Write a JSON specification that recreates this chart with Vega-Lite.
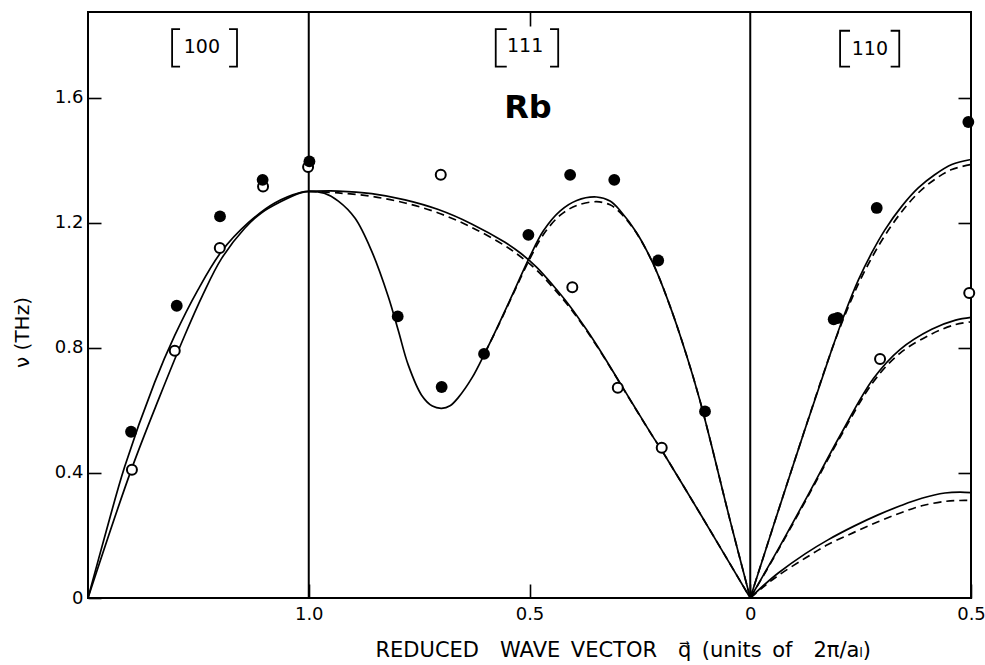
{
  "$schema": "https://vega.github.io/schema/vega-lite/v6.json",
  "width": 883,
  "height": 586,
  "autosize": "none",
  "padding": {"left": 88, "top": 12, "right": 14, "bottom": 67},
  "background": "white",
  "config": {
    "view": {"stroke": "black", "strokeWidth": 2},
    "axis": {"grid": false, "domain": false, "labelFont": "DejaVu Sans", "titleFont": "DejaVu Sans", "labelColor": "black", "titleColor": "black", "tickColor": "black", "labelFontSize": 18, "titleFontWeight": "normal", "tickWidth": 1.6}
  },
  "datasets": {
    "dividers": [{"s": 1}, {"s": 3}],
    "solid": [
      {"id": "100a", "s": 0, "v": 0}, {"id": "100a", "s": 0.083, "v": 0.215}, {"id": "100a", "s": 0.166, "v": 0.42}, {"id": "100a", "s": 0.302, "v": 0.69}, {"id": "100a", "s": 0.393, "v": 0.84}, {"id": "100a", "s": 0.498, "v": 0.986}, {"id": "100a", "s": 0.604, "v": 1.108}, {"id": "100a", "s": 0.725, "v": 1.2}, {"id": "100a", "s": 0.846, "v": 1.264}, {"id": "100a", "s": 0.966, "v": 1.298}, {"id": "100a", "s": 1.0, "v": 1.301},
      {"id": "100b", "s": 0, "v": 0}, {"id": "100b", "s": 0.196, "v": 0.41}, {"id": "100b", "s": 0.325, "v": 0.645}, {"id": "100b", "s": 0.438, "v": 0.84}, {"id": "100b", "s": 0.52, "v": 0.97}, {"id": "100b", "s": 0.604, "v": 1.085}, {"id": "100b", "s": 0.71, "v": 1.183}, {"id": "100b", "s": 0.785, "v": 1.232}, {"id": "100b", "s": 0.87, "v": 1.267}, {"id": "100b", "s": 0.966, "v": 1.297}, {"id": "100b", "s": 1.0, "v": 1.301},
      {"id": "111L", "s": 1.0, "v": 1.301}, {"id": "111L", "s": 1.07, "v": 1.295}, {"id": "111L", "s": 1.134, "v": 1.27}, {"id": "111L", "s": 1.21, "v": 1.215}, {"id": "111L", "s": 1.285, "v": 1.11}, {"id": "111L", "s": 1.36, "v": 0.965}, {"id": "111L", "s": 1.406, "v": 0.855}, {"id": "111L", "s": 1.451, "v": 0.745}, {"id": "111L", "s": 1.512, "v": 0.648}, {"id": "111L", "s": 1.56, "v": 0.614}, {"id": "111L", "s": 1.602, "v": 0.607}, {"id": "111L", "s": 1.64, "v": 0.615}, {"id": "111L", "s": 1.678, "v": 0.642}, {"id": "111L", "s": 1.74, "v": 0.705}, {"id": "111L", "s": 1.798, "v": 0.784}, {"id": "111L", "s": 1.86, "v": 0.875}, {"id": "111L", "s": 1.919, "v": 0.965}, {"id": "111L", "s": 2.002, "v": 1.093}, {"id": "111L", "s": 2.063, "v": 1.175}, {"id": "111L", "s": 2.138, "v": 1.238}, {"id": "111L", "s": 2.214, "v": 1.272}, {"id": "111L", "s": 2.304, "v": 1.283}, {"id": "111L", "s": 2.365, "v": 1.27}, {"id": "111L", "s": 2.41, "v": 1.24}, {"id": "111L", "s": 2.486, "v": 1.168}, {"id": "111L", "s": 2.561, "v": 1.068}, {"id": "111L", "s": 2.637, "v": 0.933}, {"id": "111L", "s": 2.712, "v": 0.775}, {"id": "111L", "s": 2.772, "v": 0.632}, {"id": "111L", "s": 2.825, "v": 0.487}, {"id": "111L", "s": 2.908, "v": 0.25}, {"id": "111L", "s": 3.0, "v": 0},
      {"id": "111T", "s": 1.0, "v": 1.301}, {"id": "111T", "s": 1.134, "v": 1.302}, {"id": "111T", "s": 1.285, "v": 1.294}, {"id": "111T", "s": 1.436, "v": 1.274}, {"id": "111T", "s": 1.587, "v": 1.243}, {"id": "111T", "s": 1.738, "v": 1.197}, {"id": "111T", "s": 1.889, "v": 1.138}, {"id": "111T", "s": 1.96, "v": 1.103}, {"id": "111T", "s": 2.033, "v": 1.058}, {"id": "111T", "s": 2.108, "v": 0.999}, {"id": "111T", "s": 2.184, "v": 0.933}, {"id": "111T", "s": 2.259, "v": 0.858}, {"id": "111T", "s": 2.334, "v": 0.776}, {"id": "111T", "s": 2.41, "v": 0.688}, {"id": "111T", "s": 2.486, "v": 0.6}, {"id": "111T", "s": 2.561, "v": 0.514}, {"id": "111T", "s": 2.596, "v": 0.476}, {"id": "111T", "s": 2.772, "v": 0.271}, {"id": "111T", "s": 3.0, "v": 0},
      {"id": "110L", "s": 3.0, "v": 0}, {"id": "110L", "s": 3.185, "v": 0.405}, {"id": "110L", "s": 3.369, "v": 0.794}, {"id": "110L", "s": 3.429, "v": 0.912}, {"id": "110L", "s": 3.49, "v": 1.018}, {"id": "110L", "s": 3.55, "v": 1.104}, {"id": "110L", "s": 3.61, "v": 1.178}, {"id": "110L", "s": 3.686, "v": 1.253}, {"id": "110L", "s": 3.761, "v": 1.312}, {"id": "110L", "s": 3.837, "v": 1.355}, {"id": "110L", "s": 3.913, "v": 1.387}, {"id": "110L", "s": 4.0, "v": 1.403},
      {"id": "110T1", "s": 3.0, "v": 0}, {"id": "110T1", "s": 3.128, "v": 0.158}, {"id": "110T1", "s": 3.256, "v": 0.322}, {"id": "110T1", "s": 3.407, "v": 0.52}, {"id": "110T1", "s": 3.558, "v": 0.702}, {"id": "110T1", "s": 3.678, "v": 0.795}, {"id": "110T1", "s": 3.822, "v": 0.86}, {"id": "110T1", "s": 3.93, "v": 0.889}, {"id": "110T1", "s": 4.0, "v": 0.898},
      {"id": "110T2", "s": 3.0, "v": 0}, {"id": "110T2", "s": 3.06, "v": 0.04}, {"id": "110T2", "s": 3.127, "v": 0.08}, {"id": "110T2", "s": 3.25, "v": 0.142}, {"id": "110T2", "s": 3.352, "v": 0.186}, {"id": "110T2", "s": 3.47, "v": 0.23}, {"id": "110T2", "s": 3.579, "v": 0.266}, {"id": "110T2", "s": 3.68, "v": 0.295}, {"id": "110T2", "s": 3.777, "v": 0.319}, {"id": "110T2", "s": 3.882, "v": 0.336}, {"id": "110T2", "s": 3.95, "v": 0.339}, {"id": "110T2", "s": 4.0, "v": 0.337}
    ],
    "dashed": [
      {"id": "111L", "s": 1.798, "v": 0.784}, {"id": "111L", "s": 1.86, "v": 0.873}, {"id": "111L", "s": 1.919, "v": 0.962}, {"id": "111L", "s": 2.002, "v": 1.086}, {"id": "111L", "s": 2.063, "v": 1.163}, {"id": "111L", "s": 2.138, "v": 1.224}, {"id": "111L", "s": 2.214, "v": 1.256}, {"id": "111L", "s": 2.304, "v": 1.268}, {"id": "111L", "s": 2.365, "v": 1.258}, {"id": "111L", "s": 2.41, "v": 1.234}, {"id": "111L", "s": 2.486, "v": 1.166}, {"id": "111L", "s": 2.561, "v": 1.068}, {"id": "111L", "s": 2.637, "v": 0.933}, {"id": "111L", "s": 2.712, "v": 0.775}, {"id": "111L", "s": 2.772, "v": 0.632}, {"id": "111L", "s": 2.825, "v": 0.487}, {"id": "111L", "s": 2.908, "v": 0.25}, {"id": "111L", "s": 3.0, "v": 0},
      {"id": "111T", "s": 1.0, "v": 1.301}, {"id": "111T", "s": 1.134, "v": 1.296}, {"id": "111T", "s": 1.285, "v": 1.285}, {"id": "111T", "s": 1.436, "v": 1.264}, {"id": "111T", "s": 1.587, "v": 1.232}, {"id": "111T", "s": 1.738, "v": 1.186}, {"id": "111T", "s": 1.889, "v": 1.127}, {"id": "111T", "s": 1.96, "v": 1.092}, {"id": "111T", "s": 2.033, "v": 1.049}, {"id": "111T", "s": 2.108, "v": 0.992}, {"id": "111T", "s": 2.184, "v": 0.928}, {"id": "111T", "s": 2.259, "v": 0.855}, {"id": "111T", "s": 2.334, "v": 0.774}, {"id": "111T", "s": 2.41, "v": 0.687}, {"id": "111T", "s": 2.486, "v": 0.599}, {"id": "111T", "s": 2.561, "v": 0.514}, {"id": "111T", "s": 2.596, "v": 0.476}, {"id": "111T", "s": 2.772, "v": 0.271}, {"id": "111T", "s": 3.0, "v": 0},
      {"id": "110L", "s": 3.0, "v": 0}, {"id": "110L", "s": 3.185, "v": 0.405}, {"id": "110L", "s": 3.369, "v": 0.794}, {"id": "110L", "s": 3.429, "v": 0.905}, {"id": "110L", "s": 3.49, "v": 1.005}, {"id": "110L", "s": 3.55, "v": 1.088}, {"id": "110L", "s": 3.61, "v": 1.16}, {"id": "110L", "s": 3.686, "v": 1.236}, {"id": "110L", "s": 3.761, "v": 1.296}, {"id": "110L", "s": 3.837, "v": 1.34}, {"id": "110L", "s": 3.913, "v": 1.371}, {"id": "110L", "s": 4.0, "v": 1.387},
      {"id": "110T1", "s": 3.0, "v": 0}, {"id": "110T1", "s": 3.128, "v": 0.155}, {"id": "110T1", "s": 3.256, "v": 0.318}, {"id": "110T1", "s": 3.407, "v": 0.514}, {"id": "110T1", "s": 3.558, "v": 0.692}, {"id": "110T1", "s": 3.678, "v": 0.783}, {"id": "110T1", "s": 3.822, "v": 0.845}, {"id": "110T1", "s": 3.93, "v": 0.875}, {"id": "110T1", "s": 4.0, "v": 0.884},
      {"id": "110T2", "s": 3.0, "v": 0}, {"id": "110T2", "s": 3.06, "v": 0.036}, {"id": "110T2", "s": 3.127, "v": 0.072}, {"id": "110T2", "s": 3.25, "v": 0.128}, {"id": "110T2", "s": 3.352, "v": 0.171}, {"id": "110T2", "s": 3.47, "v": 0.21}, {"id": "110T2", "s": 3.579, "v": 0.244}, {"id": "110T2", "s": 3.68, "v": 0.272}, {"id": "110T2", "s": 3.777, "v": 0.295}, {"id": "110T2", "s": 3.882, "v": 0.309}, {"id": "110T2", "s": 3.95, "v": 0.312}, {"id": "110T2", "s": 4.0, "v": 0.312}
    ],
    "brackets": [
      {"b": "L100", "i": 0, "s": 0.417, "v": 1.82}, {"b": "L100", "i": 1, "s": 0.381, "v": 1.82}, {"b": "L100", "i": 2, "s": 0.381, "v": 1.7}, {"b": "L100", "i": 3, "s": 0.417, "v": 1.7},
      {"b": "R100", "i": 0, "s": 0.639, "v": 1.82}, {"b": "R100", "i": 1, "s": 0.675, "v": 1.82}, {"b": "R100", "i": 2, "s": 0.675, "v": 1.7}, {"b": "R100", "i": 3, "s": 0.639, "v": 1.7},
      {"b": "L111", "i": 0, "s": 1.897, "v": 1.82}, {"b": "L111", "i": 1, "s": 1.847, "v": 1.82}, {"b": "L111", "i": 2, "s": 1.847, "v": 1.7}, {"b": "L111", "i": 3, "s": 1.897, "v": 1.7},
      {"b": "R111", "i": 0, "s": 2.093, "v": 1.82}, {"b": "R111", "i": 1, "s": 2.13, "v": 1.82}, {"b": "R111", "i": 2, "s": 2.13, "v": 1.7}, {"b": "R111", "i": 3, "s": 2.093, "v": 1.7},
      {"b": "L110", "i": 0, "s": 3.452, "v": 1.815}, {"b": "L110", "i": 1, "s": 3.407, "v": 1.815}, {"b": "L110", "i": 2, "s": 3.407, "v": 1.7}, {"b": "L110", "i": 3, "s": 3.452, "v": 1.7},
      {"b": "R110", "i": 0, "s": 3.636, "v": 1.815}, {"b": "R110", "i": 1, "s": 3.675, "v": 1.815}, {"b": "R110", "i": 2, "s": 3.675, "v": 1.7}, {"b": "R110", "i": 3, "s": 3.636, "v": 1.7}
    ],
    "dirs": [
      {"s": 0.516, "v": 1.762, "t": "100"},
      {"s": 1.98, "v": 1.766, "t": "111"},
      {"s": 3.542, "v": 1.758, "t": "110"}
    ],
    "elem": [{"s": 1.993, "v": 1.569, "t": "Rb"}],
    "open": [
      {"s": 0.199, "v": 0.41}, {"s": 0.393, "v": 0.791}, {"s": 0.597, "v": 1.12}, {"s": 0.793, "v": 1.317}, {"s": 0.997, "v": 1.379},
      {"s": 1.598, "v": 1.354}, {"s": 2.194, "v": 0.994}, {"s": 2.4, "v": 0.673}, {"s": 2.599, "v": 0.481},
      {"s": 3.588, "v": 0.765}, {"s": 3.992, "v": 0.976}
    ],
    "filled": [
      {"s": 0.195, "v": 0.532}, {"s": 0.402, "v": 0.935}, {"s": 0.598, "v": 1.221}, {"s": 0.791, "v": 1.338}, {"s": 1.003, "v": 1.397},
      {"s": 1.403, "v": 0.901}, {"s": 1.602, "v": 0.675}, {"s": 1.794, "v": 0.781}, {"s": 1.995, "v": 1.162}, {"s": 2.184, "v": 1.354}, {"s": 2.384, "v": 1.338}, {"s": 2.583, "v": 1.08}, {"s": 2.795, "v": 0.597},
      {"s": 3.378, "v": 0.892}, {"s": 3.396, "v": 0.896}, {"s": 3.573, "v": 1.248}, {"s": 3.988, "v": 1.523}
    ]
  },
  "resolve": {"axis": {"x": "independent", "y": "independent"}},
  "layer": [
    {
      "data": {"name": "dividers"},
      "mark": {"type": "rule", "stroke": "black", "strokeWidth": 2},
      "encoding": {
        "x": {"field": "s", "type": "quantitative", "scale": {"domain": [0, 4], "nice": false, "zero": false},
          "axis": {"orient": "bottom", "values": [1, 2, 3, 4], "labelExpr": "datum.value == 1 ? '1.0' : (datum.value == 3 ? '0' : '0.5')", "labelFlush": false, "labelOverlap": false, "tickSize": -14, "labelPadding": 21,
            "title": "REDUCED\u2003WAVE\u2002VECTOR\u2003q\u20d7\u2002(units\u2002of\u20032\u03c0/a\u2097)", "titleFontSize": 21, "titleX": 287, "titleY": 52, "titleAlign": "left", "titleBaseline": "middle"}}
      }
    },
    {
      "data": {"name": "dashed"},
      "mark": {"type": "line", "stroke": "black", "strokeWidth": 1.7, "strokeDash": [8, 5], "interpolate": "catmull-rom"},
      "encoding": {
        "x": {"field": "s", "type": "quantitative", "scale": {"domain": [0, 4], "nice": false, "zero": false},
          "axis": {"orient": "top", "values": [2], "labels": false, "tickSize": -14, "title": null}},
        "y": {"field": "v", "type": "quantitative", "scale": {"domain": [0, 1.875], "nice": false, "zero": false},
          "axis": {"orient": "right", "values": [0.4, 0.8, 1.2, 1.6], "labels": false, "tickSize": -13, "title": null}},
        "detail": {"field": "id"}
      }
    },
    {
      "data": {"name": "solid"},
      "mark": {"type": "line", "stroke": "black", "strokeWidth": 1.7, "interpolate": "catmull-rom"},
      "encoding": {
        "x": {"field": "s", "type": "quantitative", "scale": {"domain": [0, 4], "nice": false, "zero": false}, "axis": null},
        "y": {"field": "v", "type": "quantitative", "scale": {"domain": [0, 1.875], "nice": false, "zero": false},
          "axis": {"orient": "left", "values": [0, 0.4, 0.8, 1.2, 1.6], "labelExpr": "datum.value == 0 ? '0' : format(datum.value, '.1f')", "tickSize": -13, "labelPadding": 18,
            "title": "\u03bd (THz)", "titleFontSize": 20, "titleX": -66, "titleY": 320, "titleAlign": "center", "titleBaseline": "middle"}},
        "detail": {"field": "id"}
      }
    },
    {
      "data": {"name": "brackets"},
      "mark": {"type": "line", "stroke": "black", "strokeWidth": 1.8, "strokeJoin": "miter"},
      "encoding": {
        "x": {"field": "s", "type": "quantitative", "scale": {"domain": [0, 4], "nice": false, "zero": false}, "axis": null},
        "y": {"field": "v", "type": "quantitative", "scale": {"domain": [0, 1.875], "nice": false, "zero": false}, "axis": null},
        "detail": {"field": "b"},
        "order": {"field": "i"}
      }
    },
    {
      "data": {"name": "dirs"},
      "mark": {"type": "text", "font": "DejaVu Sans", "fontSize": 19, "color": "black", "align": "center", "baseline": "middle"},
      "encoding": {
        "x": {"field": "s", "type": "quantitative", "scale": {"domain": [0, 4], "nice": false, "zero": false}, "axis": null},
        "y": {"field": "v", "type": "quantitative", "scale": {"domain": [0, 1.875], "nice": false, "zero": false}, "axis": null},
        "text": {"field": "t"}
      }
    },
    {
      "data": {"name": "elem"},
      "mark": {"type": "text", "font": "DejaVu Sans", "fontSize": 32, "fontWeight": "bold", "color": "black", "align": "center", "baseline": "middle"},
      "encoding": {
        "x": {"field": "s", "type": "quantitative", "scale": {"domain": [0, 4], "nice": false, "zero": false}, "axis": null},
        "y": {"field": "v", "type": "quantitative", "scale": {"domain": [0, 1.875], "nice": false, "zero": false}, "axis": null},
        "text": {"field": "t"}
      }
    },
    {
      "data": {"name": "open"},
      "mark": {"type": "circle", "fill": "white", "stroke": "black", "strokeWidth": 2, "size": 100, "opacity": 1},
      "encoding": {
        "x": {"field": "s", "type": "quantitative", "scale": {"domain": [0, 4], "nice": false, "zero": false}, "axis": null},
        "y": {"field": "v", "type": "quantitative", "scale": {"domain": [0, 1.875], "nice": false, "zero": false}, "axis": null}
      }
    },
    {
      "data": {"name": "filled"},
      "mark": {"type": "circle", "color": "black", "size": 140, "opacity": 1},
      "encoding": {
        "x": {"field": "s", "type": "quantitative", "scale": {"domain": [0, 4], "nice": false, "zero": false}, "axis": null},
        "y": {"field": "v", "type": "quantitative", "scale": {"domain": [0, 1.875], "nice": false, "zero": false}, "axis": null}
      }
    }
  ]
}
